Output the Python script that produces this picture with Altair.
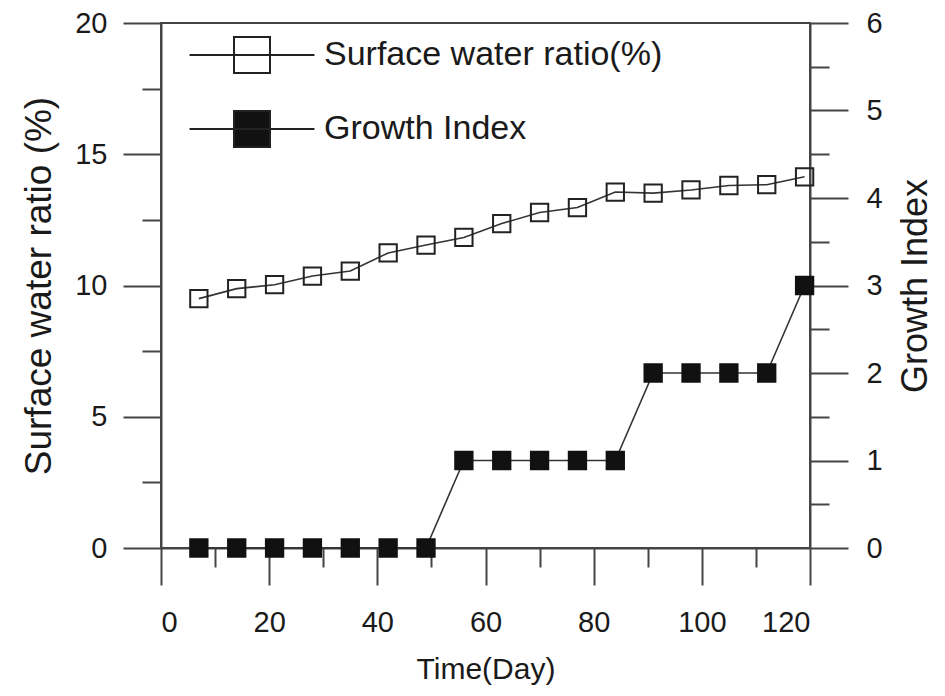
import altair as alt
import pandas as pd

# ---- data ----
days = [7, 14, 21, 28, 35, 42, 49, 56, 63, 70, 77, 84, 91, 98, 105, 112, 119]
surface_water = [9.50, 9.88, 10.03, 10.36, 10.55, 11.24, 11.54, 11.83, 12.36,
                 12.78, 12.97, 13.56, 13.52, 13.64, 13.81, 13.84, 14.14]
growth_index = [0, 0, 0, 0, 0, 0, 0, 1, 1, 1, 1, 1, 2, 2, 2, 2, 3]
series_names = ["Surface water ratio(%)", "Growth Index"]
x_tick_values = [0, 10, 20, 30, 40, 50, 60, 70, 80, 90, 100, 110, 120]
left_tick_values = [0, 2.5, 5, 7.5, 10, 12.5, 15, 17.5, 20]
right_tick_values = [0, 0.5, 1, 1.5, 2, 2.5, 3, 3.5, 4, 4.5, 5, 5.5, 6]

FONT = "Liberation Sans"
AX = "#444444"
TXT = "#1a1a1a"

df = pd.DataFrame({
    "day": days,
    "swr": surface_water,
    "gi": growth_index,
})

# legend glyph: a horizontal line through a square (unit = half the square side)
LEG_PATH = "M-3.47,0H3.47M-1,-1H1V1H-1Z"

fill_enc_kwargs = dict(
    scale=alt.Scale(domain=series_names, range=["transparent", "#111111"]),
    legend=alt.Legend(
        title=None, orient="none", legendX=72, legendY=13,
        symbolType=LEG_PATH, symbolSize=1296, symbolStrokeWidth=2,
        symbolStrokeColor="#222222", symbolOpacity=1,
        labelFont=FONT, labelFontSize=34, labelColor=TXT, labelOffset=53,
        labelLimit=0, rowPadding=30, padding=0,
    ),
)

x_enc = alt.X(
    "day:Q",
    scale=alt.Scale(domain=[0, 120], nice=False),
    axis=alt.Axis(
        title="Time(Day)", values=x_tick_values,
        labelExpr="datum.value % 20 === 0 ? '' + datum.value : ''",
        tickSize={"condition": {"test": "datum.value % 20 === 0", "value": 37}, "value": 19},
        grid=False, domainColor=AX, domainWidth=2, tickColor=AX, tickWidth=2,
        labelFont=FONT, labelFontSize=29, labelColor=TXT, labelPadding=23,
        titleFont=FONT, titleFontSize=30, titleFontWeight="normal", titleColor=TXT,
        titlePadding=17,
    ),
)

y_left = alt.Y(
    "swr:Q",
    scale=alt.Scale(domain=[0, 20], nice=False),
    axis=alt.Axis(
        orient="left", title="Surface water ratio (%)", values=left_tick_values,
        labelExpr="datum.value % 5 === 0 ? '' + datum.value : ''",
        tickSize={"condition": {"test": "datum.value % 5 === 0", "value": 38}, "value": 19},
        grid=False, domainColor=AX, domainWidth=2, tickColor=AX, tickWidth=2,
        labelFont=FONT, labelFontSize=29, labelColor=TXT, labelPadding=16,
        titleFont=FONT, titleFontSize=37, titleFontWeight="normal", titleColor=TXT,
        titlePadding=16,
    ),
)

y_right = alt.Y(
    "gi:Q",
    scale=alt.Scale(domain=[0, 6], nice=False),
    axis=alt.Axis(
        orient="right", title="Growth Index", values=right_tick_values,
        labelExpr="datum.value % 1 === 0 ? '' + datum.value : ''",
        tickSize={"condition": {"test": "datum.value % 1 === 0", "value": 38}, "value": 19},
        grid=False, domainColor=AX, domainWidth=2, tickColor=AX, tickWidth=2,
        labelFont=FONT, labelFontSize=29, labelColor=TXT, labelPadding=18,
        titleFont=FONT, titleFontSize=36, titleFontWeight="normal", titleColor=TXT,
        titlePadding=16, titleAngle=270, titleBaseline="top",
    ),
)

base = alt.Chart(df)

swr_line = base.mark_line(color="#333333", strokeWidth=1.6).encode(x=x_enc, y=y_left)
swr_pts = base.transform_calculate(series="'Surface water ratio(%)'").mark_point(
    shape="square", size=300, filled=True, opacity=1, stroke="#222222", strokeWidth=2
).encode(x=x_enc, y=y_left, fill=alt.Fill("series:N", **fill_enc_kwargs))

gi_line = base.mark_line(color="#333333", strokeWidth=1.6).encode(x=x_enc, y=y_right)
gi_pts = base.transform_calculate(series="'Growth Index'").mark_point(
    shape="square", size=300, filled=True, opacity=1, stroke="#111111", strokeWidth=2
).encode(x=x_enc, y=y_right, fill=alt.Fill("series:N", **fill_enc_kwargs))

left_layer = alt.layer(swr_line, swr_pts)
right_layer = alt.layer(gi_line, gi_pts)

chart = alt.layer(left_layer, right_layer).resolve_scale(y="independent").properties(
    width=649, height=525,
    autosize=alt.AutoSizeParams(type="none"),
    padding={"left": 153, "top": 15, "right": 127, "bottom": 140},
    background="white",
).configure_view(stroke=AX, strokeWidth=2)

chart.save("out.html", embed_options={"renderer": "svg", "actions": False})
